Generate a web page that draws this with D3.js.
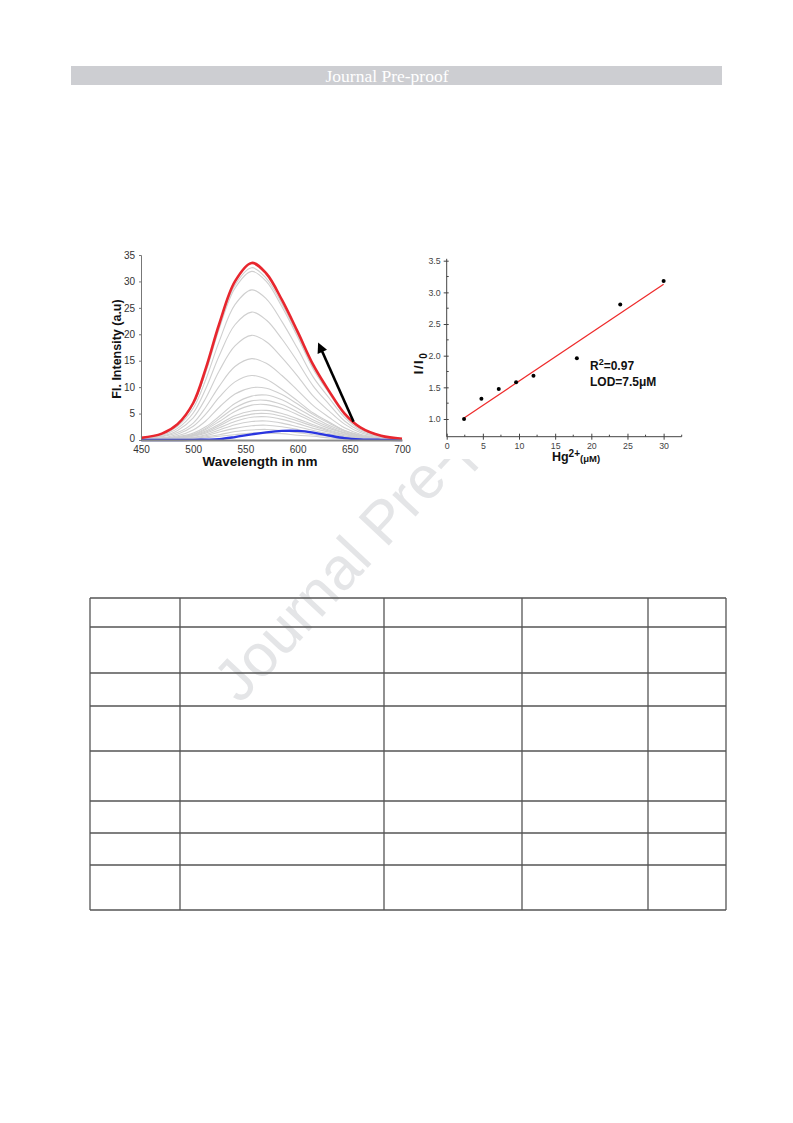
<!DOCTYPE html>
<html>
<head>
<meta charset="utf-8">
<script src="https://cdn.jsdelivr.net/npm/d3@7/dist/d3.min.js"></script>
<style>
  html, body { margin: 0; padding: 0; background: #fff; }
  svg { display: block; }
</style>
</head>
<body>
<svg id="page" width="793" height="1123"></svg>
<script>
// ---------------- DATA ----------------
const wavelengths = [450,470,485,500,512,525,540,556,570,585,600,615,630,645,660,680,700];
const redSpectrum  = [0.4,1.2,3.0,7.0,13.5,22.0,30.0,33.5,31.5,26.5,20.5,14.2,9.3,5.0,2.4,0.8,0.25];
const blueSpectrum = [0,0,0,0.02,0.06,0.15,0.55,1.07,1.45,1.72,1.72,1.4,0.85,0.35,0.12,0.03,0.01];
const graySpectra = [
  [0.4,1.2,2.9,6.8,13.0,21.5,29.3,32.6,30.6,25.8,19.9,13.7,9.1,4.9,2.3,0.8,0.2],
  [0.4,1.1,2.9,6.7,12.8,21.1,28.7,31.9,30.0,25.2,19.5,13.4,8.9,4.8,2.3,0.8,0.2],
  [0.3,1.0,2.6,6.0,11.4,18.7,25.6,28.4,26.7,22.4,17.3,11.9,8.0,4.3,2.0,0.7,0.2],
  [0.3,0.9,2.2,5.1,9.7,16.0,21.8,24.2,22.7,19.1,14.8,10.2,6.8,3.6,1.7,0.6,0.2],
  [0.2,0.7,1.8,4.2,7.9,13.1,17.8,19.8,18.6,15.6,12.1,8.3,5.5,3.0,1.4,0.5,0.1],
  [0.2,0.6,1.4,3.2,6.2,10.2,13.9,15.4,14.5,12.2,9.4,6.5,4.3,2.3,1.1,0.4,0.1],
  [0.1,0.4,1.1,2.6,4.9,8.1,11.0,12.2,11.5,9.6,7.4,5.1,3.4,1.8,0.9,0.3,0.1],
  [0.1,0.3,0.8,1.9,3.6,6.2,8.7,9.9,9.8,8.6,6.8,4.8,3.2,1.8,0.9,0.3,0.1],
  [0.1,0.3,0.6,1.3,2.5,4.5,6.9,8.3,8.5,7.6,6.0,4.3,2.8,1.6,0.8,0.3,0.1],
  [0.1,0.2,0.5,1.1,2.2,4.0,6.1,7.4,7.5,6.7,5.3,3.8,2.5,1.4,0.7,0.2,0.1],
  [0.1,0.2,0.4,1.0,2.0,3.5,5.4,6.6,6.7,6.0,4.8,3.4,2.2,1.3,0.6,0.2,0.1],
  [0.1,0.2,0.4,0.9,1.7,3.0,4.6,5.5,5.6,5.0,4.0,2.9,1.9,1.1,0.5,0.2,0],
  [0,0.2,0.3,0.8,1.5,2.7,4.1,4.9,5.0,4.5,3.6,2.6,1.7,1.0,0.5,0.2,0],
  [0,0.1,0.3,0.7,1.3,2.3,3.5,4.3,4.4,3.9,3.1,2.2,1.5,0.8,0.4,0.1,0],
  [0,0.1,0.2,0.5,1.0,1.9,2.9,3.5,3.6,3.2,2.5,1.8,1.2,0.7,0.3,0.1,0],
  [0,0.1,0.2,0.4,0.8,1.5,2.2,2.7,2.8,2.5,2.0,1.4,0.9,0.5,0.3,0.1,0],
  [0,0.1,0.1,0.3,0.6,1.0,1.6,1.9,2.0,1.8,1.4,1.0,0.7,0.4,0.2,0.1,0],
  [0,0,0.1,0.2,0.4,0.7,1.0,1.3,1.3,1.2,0.9,0.7,0.4,0.2,0.1,0,0]
];
const spectraXTicks = [450,500,550,600,650,700];
const spectraYTicks = [0,5,10,15,20,25,30,35];
const arrowFrom = [653.6, 3.46];
const arrowTo   = [622.5, 17.2];

const hgConc  = [2.4, 4.8, 7.2, 9.6, 12, 18, 24, 30];
const ratioI  = [1.0, 1.32, 1.475, 1.58, 1.685, 1.96, 2.81, 3.18];
const fitLine = [[2.4, 1.015], [30, 3.13]];
const calXTicks = [0,5,10,15,20,25,30];
const calXMinor = [2.5,7.5,12.5,17.5,22.5,27.5,32.5];
const calYTicks = [1.0,1.5,2.0,2.5,3.0,3.5];
const calYMinor = [1.25,1.75,2.25,2.75,3.25];

const headerText = "Journal Pre-proof";
const watermarkText = "Journal Pre-proof";
const tableColEdges = [90,180,384,522,648,726];
const tableRowEdges = [598,627,673,706,751,801,833,865,910];

// ---------------- DRAW ----------------
const svg = d3.select("#page");
const SANS = "'Liberation Sans', Arial, sans-serif";

// header bar
svg.append("rect").attr("x",71).attr("y",66).attr("width",651).attr("height",19).attr("fill","#cdced2");
svg.append("text").attr("x",387).attr("y",81.5).attr("text-anchor","middle")
  .attr("font-family","'Liberation Serif', 'Times New Roman', serif").attr("font-size",17.5)
  .attr("fill","#ffffff").text(headerText);

// watermark
svg.append("text")
  .attr("transform","translate(240,705) rotate(-47)")
  .attr("font-family",SANS).attr("font-size",60)
  .attr("fill","#e4e5e7").text(watermarkText);

// figure background (covers the watermark)
svg.append("rect").attr("x",100).attr("y",242).attr("width",592).attr("height",217).attr("fill","#fff");

// ---- Left: spectra ----
const xS = d3.scaleLinear().domain([450,700]).range([141,402]);
const yS = d3.scaleLinear().domain([0,35]).range([440,255]);
const gL = svg.append("g");
const lineS = d3.line().x((d,i)=>xS(wavelengths[i])).y(d=>yS(d)).curve(d3.curveCatmullRom.alpha(0.5));

graySpectra.forEach(s => {
  gL.append("path").attr("d", lineS(s)).attr("fill","none").attr("stroke","#cfcfcf").attr("stroke-width",1.1);
});
gL.append("path").attr("d", lineS(blueSpectrum)).attr("fill","none").attr("stroke","#2a35e0").attr("stroke-width",2.4);
gL.append("path").attr("d", lineS(redSpectrum)).attr("fill","none").attr("stroke","#e8262e").attr("stroke-width",2.6);

// axes
const axLX = gL.append("g").attr("transform","translate(0,440)")
  .call(d3.axisBottom(xS).tickValues(spectraXTicks).tickSize(0).tickPadding(6));
axLX.select(".domain").attr("stroke","#8a8a8a").attr("stroke-width",2.2);
const axLY = gL.append("g").attr("transform","translate(141,0)")
  .call(d3.axisLeft(yS).tickValues(spectraYTicks).tickSize(2).tickPadding(4));
axLY.select(".domain").attr("stroke","#777").attr("stroke-width",1);
axLY.selectAll(".tick line").attr("stroke","#777");
[axLX, axLY].forEach(a => a.selectAll("text").attr("font-family",SANS).attr("font-size",10).attr("fill","#333"));
axLY.selectAll(".tick").filter(d => d === 0).select("text").attr("dy","0.1em");

gL.append("text").attr("x",260).attr("y",466).attr("text-anchor","middle")
  .attr("font-family",SANS).attr("font-weight","bold").attr("font-size",13.5).attr("fill","#111")
  .text("Wavelength in nm");
gL.append("text").attr("transform","translate(121,349) rotate(-90)").attr("text-anchor","middle")
  .attr("font-family",SANS).attr("font-weight","bold").attr("font-size",12.5).attr("fill","#111")
  .text("Fl. Intensity (a.u)");

// arrow
const defs = svg.append("defs");
defs.append("marker").attr("id","ah").attr("viewBox","0 0 10 10").attr("refX",3).attr("refY",5)
  .attr("markerWidth",4.6).attr("markerHeight",4).attr("markerUnits","strokeWidth").attr("orient","auto")
  .append("path").attr("d","M0,0 L10,5 L0,10 z").attr("fill","#000");
gL.append("line")
  .attr("x1",xS(arrowFrom[0])).attr("y1",yS(arrowFrom[1]))
  .attr("x2",xS(arrowTo[0])).attr("y2",yS(arrowTo[1]))
  .attr("stroke","#000").attr("stroke-width",2.6).attr("marker-end","url(#ah)");

// ---- Right: calibration ----
const xC = d3.scaleLinear().domain([0,32.5]).range([446.7,681.7]);
const yC = d3.scaleLinear().domain([1.0,3.5]).range([419,260.7]);
const gR = svg.append("g");
const yBottom = 436.7;

const axRX = gR.append("g").attr("transform",`translate(0,${yBottom})`)
  .call(d3.axisBottom(xC).tickValues(calXTicks).tickSize(3).tickPadding(3).tickSizeOuter(0));
axRX.select(".domain").attr("d", `M${xC(0)},0H${xC(32.5)}`).attr("stroke","#444");
axRX.selectAll(".tick line").attr("y1",-3).attr("y2",3).attr("stroke","#444");
gR.append("g").attr("transform",`translate(0,${yBottom})`)
  .selectAll("line").data(calXMinor).join("line")
  .attr("x1",d=>xC(d)).attr("x2",d=>xC(d)).attr("y1",-2).attr("y2",0).attr("stroke","#444");

const axRY = gR.append("g").attr("transform",`translate(${xC(0)},0)`)
  .call(d3.axisLeft(yC).tickValues(calYTicks).tickFormat(d3.format(".1f")).tickSize(3).tickPadding(3).tickSizeOuter(0));
axRY.select(".domain").attr("d", `M0,${yBottom}V${yC(3.53)}`).attr("stroke","#444");
axRY.selectAll(".tick line").attr("x1",-3).attr("x2",2).attr("stroke","#444");
gR.append("g").attr("transform",`translate(${xC(0)},0)`)
  .selectAll("line").data(calYMinor).join("line")
  .attr("y1",d=>yC(d)).attr("y2",d=>yC(d)).attr("x1",0).attr("x2",2).attr("stroke","#444");
[axRX, axRY].forEach(a => a.selectAll("text").attr("font-family",SANS).attr("font-size",8.8).attr("fill","#444"));

gR.append("line")
  .attr("x1",xC(fitLine[0][0])).attr("y1",yC(fitLine[0][1]))
  .attr("x2",xC(fitLine[1][0])).attr("y2",yC(fitLine[1][1]))
  .attr("stroke","#ee2a2a").attr("stroke-width",1.2);
gR.selectAll("circle").data(hgConc).join("circle")
  .attr("cx",d=>xC(d)).attr("cy",(d,i)=>yC(ratioI[i])).attr("r",2).attr("fill","#000");

// annotations
const ann = gR.append("text").attr("x",590).attr("y",370)
  .attr("font-family",SANS).attr("font-weight","bold").attr("font-size",12).attr("fill","#111");
ann.append("tspan").text("R");
ann.append("tspan").attr("dy",-5).attr("font-size",9).text("2");
ann.append("tspan").attr("dy",5).text("=0.97");
gR.append("text").attr("x",590).attr("y",386)
  .attr("font-family",SANS).attr("font-weight","bold").attr("font-size",12).attr("fill","#111")
  .text("LOD=7.5\u03BCM");

// axis titles
const xt = gR.append("text").attr("x",576).attr("y",461).attr("text-anchor","middle")
  .attr("font-family",SANS).attr("font-weight","bold").attr("font-size",12.5).attr("fill","#111");
xt.append("tspan").text("Hg");
xt.append("tspan").attr("dy",-4).attr("font-size",10).text("2+");
xt.append("tspan").attr("dy",5).attr("font-size",9.5).text("(\u03BCM)");
const yt = gR.append("text").attr("transform","translate(423,363) rotate(-90)").attr("text-anchor","middle")
  .attr("font-family",SANS).attr("font-weight","bold").attr("font-size",13).attr("letter-spacing",1.5).attr("fill","#111");
yt.append("tspan").text("I/I");
yt.append("tspan").attr("dy",4).attr("font-size",10).text("0");

// ---- Table ----
const gT = svg.append("g").attr("stroke","#555").attr("stroke-width",1.3);
gT.selectAll("line.h").data(tableRowEdges).join("line").attr("class","h")
  .attr("x1",tableColEdges[0]).attr("x2",tableColEdges[tableColEdges.length-1])
  .attr("y1",d=>d).attr("y2",d=>d);
gT.selectAll("line.v").data(tableColEdges).join("line").attr("class","v")
  .attr("y1",tableRowEdges[0]).attr("y2",tableRowEdges[tableRowEdges.length-1])
  .attr("x1",d=>d).attr("x2",d=>d);
</script>
</body>
</html>
